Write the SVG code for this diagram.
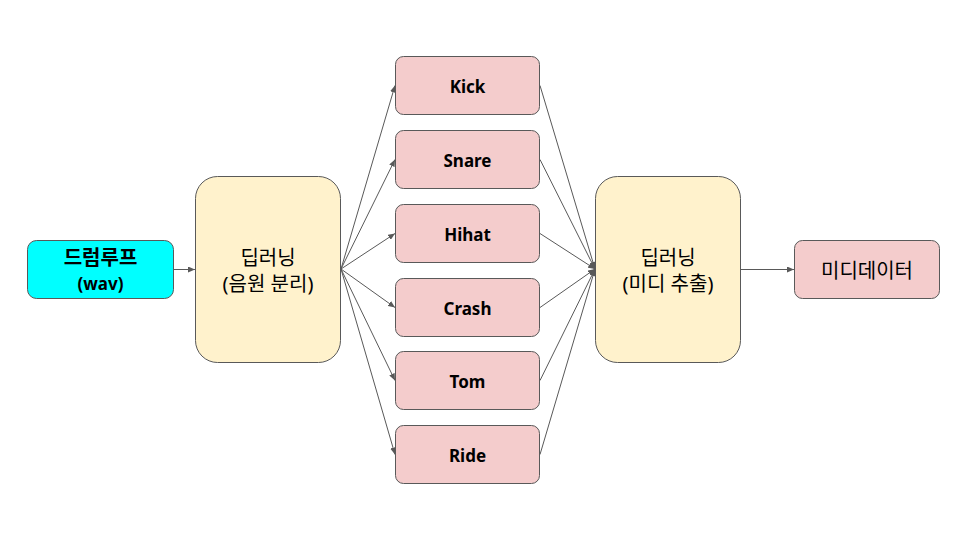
<svg xmlns="http://www.w3.org/2000/svg" width="960" height="540" viewBox="0 0 960 540">
<style>
.n{stroke:#595959;stroke-width:1}
.cy{fill:#00ffff}
.yl{fill:#fff2cc}
.pk{fill:#f4cccc}
text{font-family:"Noto Sans","Noto Sans CJK KR",sans-serif;font-size:17px;fill:#000;text-anchor:middle;dominant-baseline:central}
.k{font-size:20px}
.b{font-weight:bold}
.c{stroke:#595959;stroke-width:1;fill:none;marker-end:url(#ah)}
</style>
<defs>
<marker id="ah" markerWidth="8" markerHeight="6" refX="7" refY="3" orient="auto" markerUnits="userSpaceOnUse">
<path d="M0,0 L7,3 L0,6 Z" fill="#595959"/>
</marker>
</defs>
<rect width="960" height="540" fill="#fff"/>
<g id="connectors">
<line class="c" x1="174" y1="269.5" x2="195" y2="269.5"/>
<line class="c" x1="341" y1="269" x2="395" y2="85.5"/>
<line class="c" x1="341" y1="269" x2="395" y2="159.5"/>
<line class="c" x1="341" y1="269" x2="395" y2="233.5"/>
<line class="c" x1="341" y1="269" x2="395" y2="307.5"/>
<line class="c" x1="341" y1="269" x2="395" y2="380.5"/>
<line class="c" x1="341" y1="269" x2="395" y2="454.5"/>
<line class="c" x1="540" y1="85.5" x2="595" y2="269"/>
<line class="c" x1="540" y1="159.5" x2="595" y2="269"/>
<line class="c" x1="540" y1="233.5" x2="595" y2="269"/>
<line class="c" x1="540" y1="307.5" x2="595" y2="269"/>
<line class="c" x1="540" y1="380.5" x2="595" y2="269"/>
<line class="c" x1="540" y1="454.5" x2="595" y2="269"/>
<line class="c" x1="741" y1="269.5" x2="794" y2="269.5"/>
</g>
<g id="drumloop">
<rect class="n cy" x="27.5" y="240.5" width="146" height="58" rx="9"/>
<text class="b k" x="100.5" y="257">드럼루프</text>
<text class="b" x="100.5" y="283">(wav)</text>
</g>
<g id="dl1">
<rect class="n yl" x="195.5" y="176.5" width="145" height="186" rx="22"/>
<text class="k" x="268" y="257">딥러닝</text>
<text class="k" x="268" y="283">(음원 분리)</text>
</g>
<g id="kick">
<rect class="n pk" x="395.5" y="56.5" width="144" height="58" rx="8"/>
<text class="b" x="467.5" y="86">Kick</text>
</g>
<g id="snare">
<rect class="n pk" x="395.5" y="130.5" width="144" height="58" rx="8"/>
<text class="b" x="467.5" y="160">Snare</text>
</g>
<g id="hihat">
<rect class="n pk" x="395.5" y="204.5" width="144" height="58" rx="8"/>
<text class="b" x="467.5" y="234">Hihat</text>
</g>
<g id="crash">
<rect class="n pk" x="395.5" y="278.5" width="144" height="58" rx="8"/>
<text class="b" x="467.5" y="308">Crash</text>
</g>
<g id="tom">
<rect class="n pk" x="395.5" y="351.5" width="144" height="58" rx="8"/>
<text class="b" x="467.5" y="381">Tom</text>
</g>
<g id="ride">
<rect class="n pk" x="395.5" y="425.5" width="144" height="58" rx="8"/>
<text class="b" x="467.5" y="455">Ride</text>
</g>
<g id="dl2">
<rect class="n yl" x="595.5" y="176.5" width="145" height="186" rx="22"/>
<text class="k" x="668" y="257">딥러닝</text>
<text class="k" x="668" y="283">(미디 추출)</text>
</g>
<g id="midi">
<rect class="n pk" x="794.5" y="240.5" width="145" height="58" rx="8"/>
<text class="k" x="867" y="270">미디데이터</text>
</g>
</svg>
